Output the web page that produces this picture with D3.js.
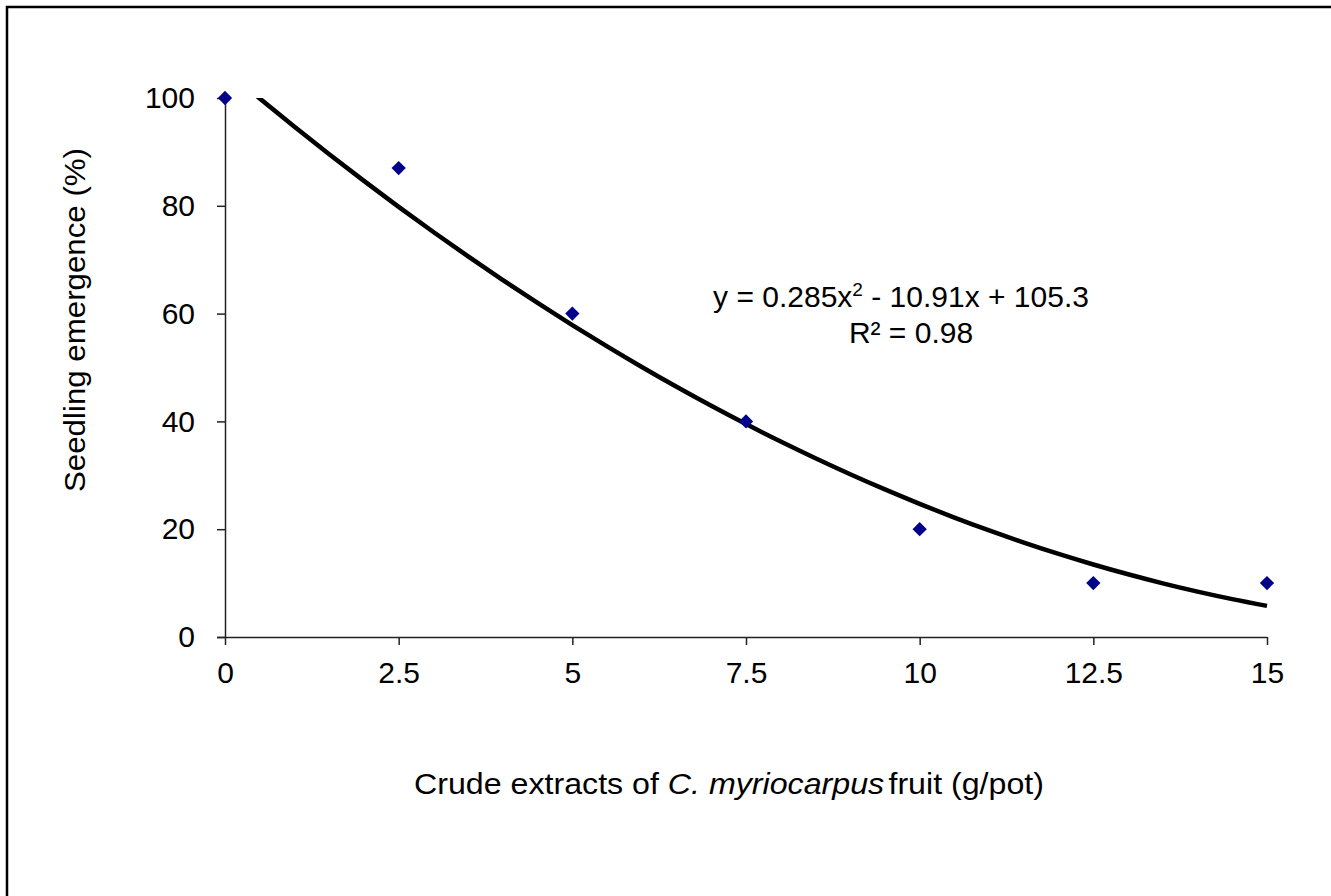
<!DOCTYPE html>
<html>
<head>
<meta charset="utf-8">
<script src="https://cdn.jsdelivr.net/npm/d3@7"></script>
<style>
  body { margin: 0; background: #fff; }
  svg text { font-family: "Liberation Sans", Arial, sans-serif; fill: #000; }
</style>
</head>
<body>
<svg id="graph"></svg>
<script>
// data
var doses = [0, 2.5, 5, 7.5, 10, 12.5, 15];
var emergence = [100, 87, 60, 40, 20, 10, 10];
var xTicks = [0, 2.5, 5, 7.5, 10, 12.5, 15];
var yTicks = [0, 20, 40, 60, 80, 100];
var fitCoef = [105.3, -10.91, 0.285]; // c, b, a of the trend line
var fitX = [0, 0.5, 1, 1.5, 2, 2.5, 3, 3.5, 4, 4.5, 5, 5.5, 6, 6.5, 7, 7.5, 8, 8.5, 9, 9.5, 10, 10.5, 11, 11.5, 12, 12.5, 13, 13.5, 14, 14.5, 15];

var W = 1331, H = 896;
var margin = {top: 98, left: 225, right: 64, bottom: 259},
  width = W - margin.left - margin.right,
  height = H - margin.top - margin.bottom;

var svg = d3.select("#graph").attr("width", W).attr("height", H);

// outer frame (only top and left edges visible)
svg.append("path")
  .attr("d", "M7," + H + "V7H" + W)
  .attr("fill", "none")
  .attr("stroke", "#000")
  .attr("stroke-width", 2.5);

var g = svg.append("g").attr("transform", "translate(" + margin.left + "," + margin.top + ")");

var x = d3.scaleLinear().domain([0, 15]).range([0, width]),
  y = d3.scaleLinear().domain([0, 100]).range([height, 0]);

// axes
var xAxis = d3.axisBottom(x).tickValues(xTicks).tickSize(8).tickSizeOuter(0).tickFormat(d3.format("")),
  yAxis = d3.axisLeft(y).tickValues(yTicks).tickSize(8).tickSizeOuter(0).tickFormat(d3.format(""));

var gx = g.append("g")
  .attr("transform", "translate(0," + height + ")")
  .call(xAxis);
gx.select(".domain").attr("d", "M-8,0.5H" + width);
gx.selectAll("text").attr("font-size", 30).attr("dy", "1.15em");

var gy = g.append("g").call(yAxis);
gy.selectAll("text").attr("font-size", 30).attr("x", -30);

g.selectAll(".domain, .tick line").attr("stroke", "#222").attr("stroke-width", 1.5);

// trend line, clipped to the plot area
g.append("clipPath").attr("id", "clip")
  .append("rect").attr("width", width + 4).attr("height", height).attr("x", 0).attr("y", 0);

var line = d3.line()
  .x(function(d) { return x(d); })
  .y(function(d) { return y(fitCoef[0] + fitCoef[1] * d + fitCoef[2] * d * d); })
  .curve(d3.curveMonotoneX);

g.append("path")
  .datum(fitX)
  .attr("clip-path", "url(#clip)")
  .attr("fill", "none")
  .attr("stroke", "#000")
  .attr("stroke-width", 4.5)
  .attr("d", line);

// points
var diamond = d3.symbol().type(d3.symbolDiamond2).size(130);
g.selectAll(".pt")
  .data(doses)
  .enter().append("path")
    .attr("class", "pt")
    .attr("transform", function(d, i) { return "translate(" + x(d) + "," + y(emergence[i]) + ")"; })
    .attr("d", diamond)
    .attr("fill", "#00008b");

// equation text
var eq = g.append("text")
  .attr("x", 901 - margin.left)
  .attr("y", 209)
  .attr("font-size", 30)
  .attr("text-anchor", "middle");
eq.append("tspan").text("y = 0.285x");
eq.append("tspan").attr("font-size", 19).attr("dy", -11).text("2");
eq.append("tspan").attr("dy", 11).text(" - 10.91x + 105.3");

g.append("text")
  .attr("x", 911 - margin.left)
  .attr("y", 245)
  .attr("font-size", 30)
  .attr("text-anchor", "middle")
  .text("R\u00b2 = 0.98");

// axis labels
var xl = svg.append("text")
  .attr("x", 729)
  .attr("y", 794)
  .attr("font-size", 30)
  .attr("text-anchor", "middle")
  .attr("textLength", 630)
  .attr("lengthAdjust", "spacingAndGlyphs");
xl.append("tspan").text("Crude extracts of ");
xl.append("tspan").attr("font-style", "italic").text("C. myriocarpus");
xl.append("tspan").text("fruit (g/pot)").attr("dx", 4);

svg.append("text")
  .attr("transform", "translate(85,320) rotate(-90)")
  .attr("font-size", 30)
  .attr("text-anchor", "middle")
  .attr("textLength", 344)
  .attr("lengthAdjust", "spacingAndGlyphs")
  .text("Seedling emergence (%)");
</script>
</body>
</html>
